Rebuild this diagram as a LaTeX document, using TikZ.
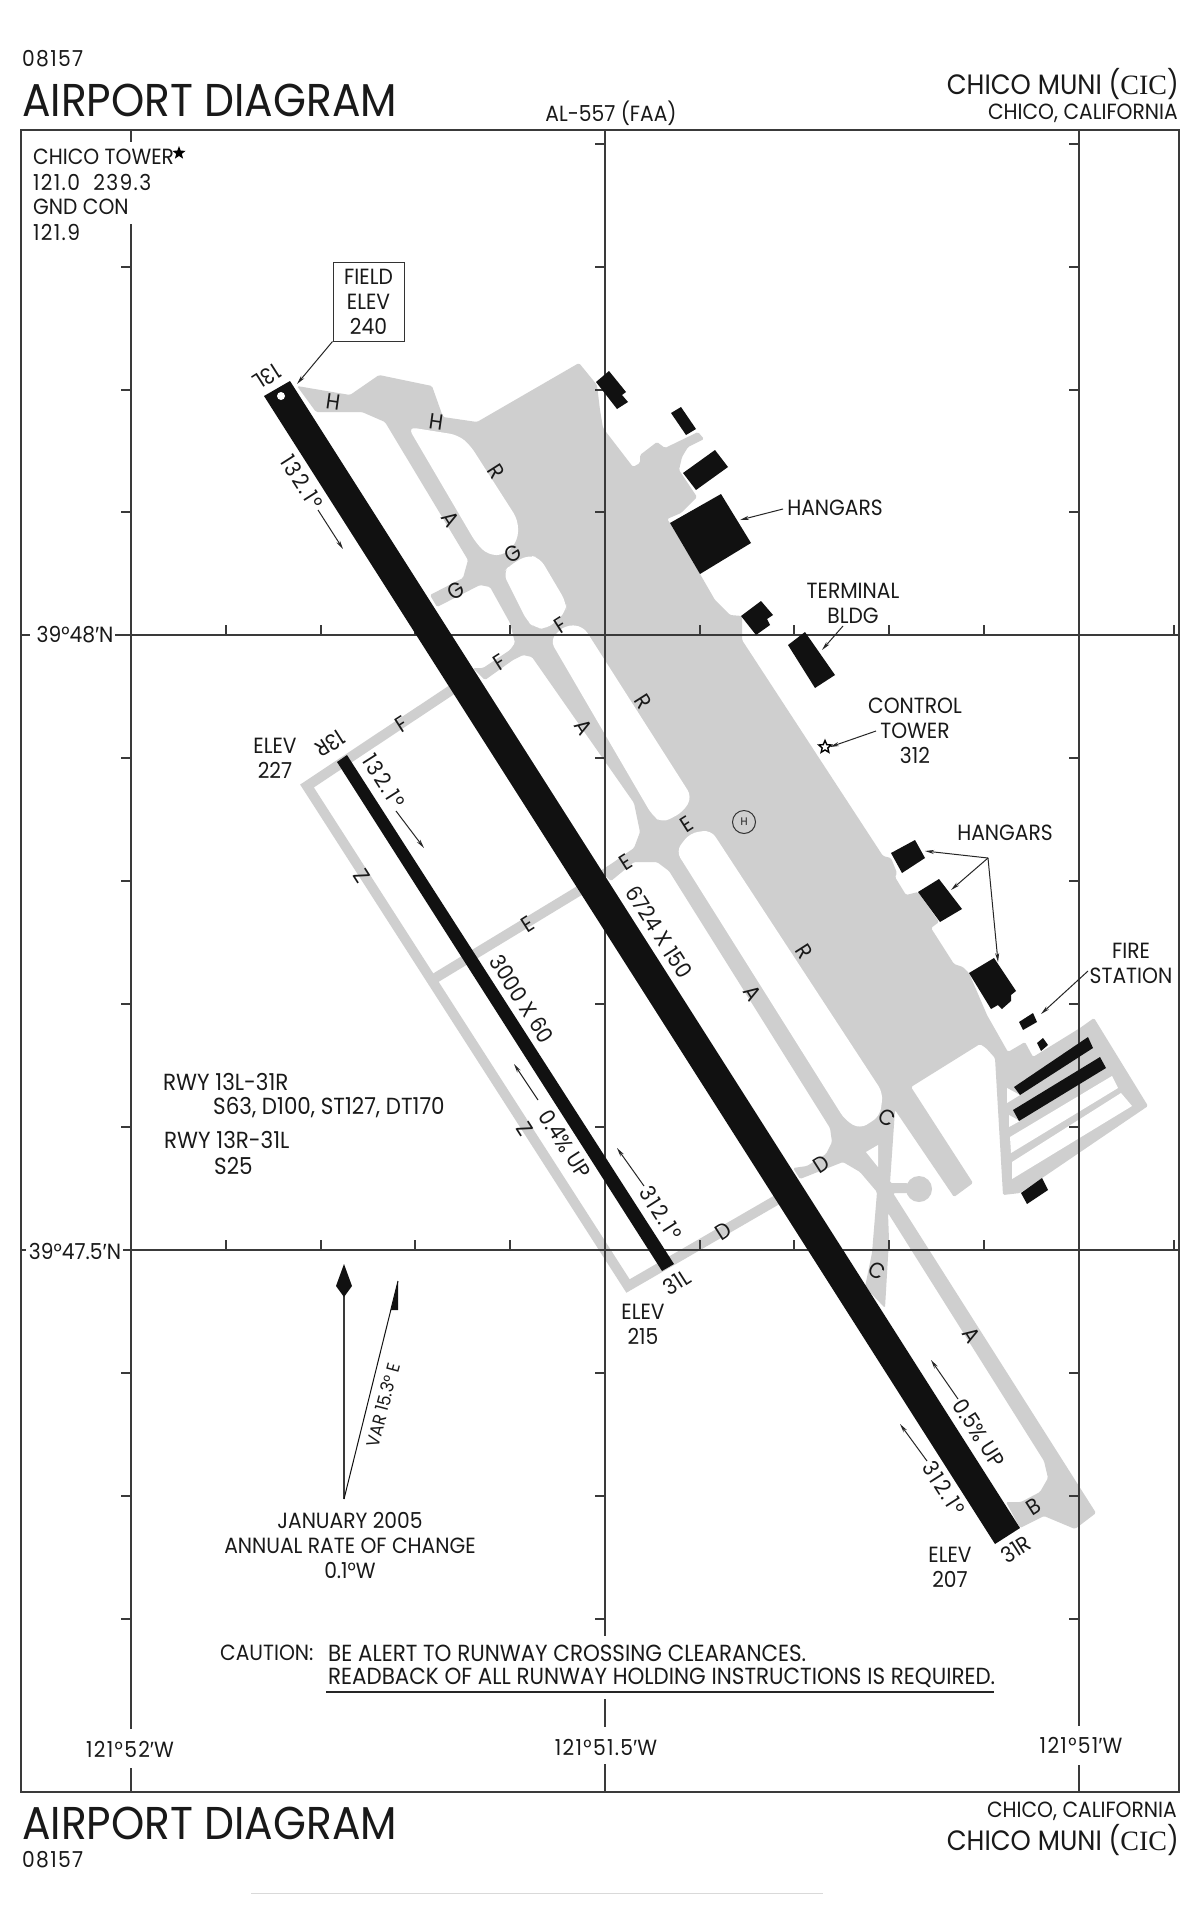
\documentclass[tikz,border=0pt]{standalone}
\usepackage{fontspec}
\usepackage{xcolor}
\usetikzlibrary{arrows.meta,shapes.geometric}
\setmainfont[FakeStretch=0.92]{Poppins}
\newfontfamily\cicfont{Liberation Serif}
\newfontfamily\primefont{Liberation Sans}
\definecolor{taxigray}{HTML}{CFCFCF}
\definecolor{rwyblack}{HTML}{111111}
\definecolor{gridgray}{HTML}{3A3A3A}
\newcommand{\sizetitle}{\fontsize{46}{50}\selectfont}
\newcommand{\sizename}{\fontsize{28}{32}\selectfont}
\newcommand{\sizetext}{\fontsize{22}{25}\selectfont}
\newcommand{\sizelong}{\fontsize{23.3}{25}\selectfont}
\newcommand{\sizenum}{\fontsize{22}{25}\selectfont\addfontfeature{LetterSpace=6}}
\newcommand{\sizehdg}{\fontsize{22}{25}\selectfont\addfontfeature{LetterSpace=9}}
\newcommand{\sizevar}{\fontsize{18}{20}\selectfont}
\newcommand{\minmark}{{\primefont ′}}
\tikzset{
    every node/.style={inner sep=0pt, text=black!90, font=\sizetext},
    gridline/.style={gridgray, line width=1.5pt},
    taxifill/.style={fill=taxigray, rounded corners=1.5pt},
    island/.style={fill=white, rounded corners=8pt},
    taxistrip/.style={draw=taxigray, line width=10pt},
    building/.style={fill=rwyblack},
    taxilabel/.style={font=\fontsize{22}{24}\selectfont},
    along/.style={rotate=-57.5},
    across/.style={rotate=32.5},
    acrossup/.style={rotate=212.5},
    callout/.style={black!85, line width=1pt, -{Stealth[length=9pt,width=4pt]}},
}
\begin{document}
\begin{tikzpicture}[x=1pt,y=-1pt]
    \useasboundingbox (0,0) rectangle (1200,1922);
    \fill[white] (0,0) rectangle (1200,1922);

    \fill[taxifill] (297,386) -- (350,395) -- (379,375) -- (432,386) -- (443,417) -- (477,422)
        -- (579,363) -- (597,385) -- (600,410) -- (603,428) -- (633,467) -- (640,463) -- (640,455)
        -- (657,442) -- (665,448) -- (698,432) -- (704,439) -- (688,447) -- (682,457) -- (679,470)
        -- (697,497) -- (681,513) -- (667,519) -- (670,523) -- (700,574) -- (715,600) -- (730,615)
        -- (742,616) -- (742,640) -- (883,856) -- (891,858) -- (897,873) -- (895,877) -- (906,895)
        -- (918,892) -- (939,922) -- (931,928) -- (954,964) -- (963,967) -- (969,973) -- (987,1015)
        -- (1008,1052) -- (1025,1042) -- (1033,1057) -- (1080,1028) -- (1094,1018) -- (1148,1106)
        -- (1020,1193) -- (1003,1195) -- (995,1058) -- (986,1048) -- (980,1044) -- (911,1087)
        -- (973,1183) -- (954,1197) -- (895,1110) -- (890,1183) -- (908,1183) -- (908,1193)
        -- (893,1193) -- (1096,1513) -- (1075,1529) -- (1044,1516) -- (1020,1528) -- (1006,1502)
        -- (1021,1502) -- (1040,1492) -- (1048,1478) -- (1044,1461) -- (888,1213) -- (889,1240)
        -- (885,1308) -- (865,1287) -- (872,1253) -- (877,1192) -- (860,1172) -- (843,1162)
        -- (800,1179) -- (793,1168) -- (807,1166) -- (826,1154) -- (832,1142) -- (830,1128)
        -- (669,871) -- (657,862) -- (634,862) -- (611,881) -- (600,871) -- (611,864) -- (634,848)
        -- (640,832) -- (634,803) -- (532,657) -- (523,655) -- (513,660) -- (485,680) -- (473,668)
        -- (483,668) -- (510,650) -- (515,643) -- (510,623) -- (490,587) -- (480,585) -- (437,607)
        -- (430,595) -- (463,578) -- (468,560) -- (385,422) -- (362,412) -- (316,412) -- cycle;
    \fill[taxigray] (919,1189) circle (13);
    \fill[island] (408,427) -- (433,431) -- (458,435) -- (470,445) -- (518,520) -- (518,540)
        -- (505,555) -- (488,555) -- (476,543) -- cycle;
    \fill[island] (503,573) -- (510,565) -- (528,555) -- (540,558) -- (566,602) -- (566,612)
        -- (547,629) -- (535,628) -- (527,621) -- cycle;
    \fill[island] (550,640) -- (565,625) -- (583,626) -- (692,797) -- (683,812) -- (662,823)
        -- (652,815) -- cycle;
    \fill[island] (676,851) -- (690,833) -- (711,830) -- (883,1093) -- (880,1116) -- (860,1129)
        -- (845,1120) -- cycle;
    \fill[white] (866,1152) -- (878,1145) -- (878,1167) -- cycle;
    \fill[white] (1010,1137) -- (1011,1153) -- (1118,1088) -- (1112,1076) -- cycle;
    \fill[white] (1012,1162) -- (1012,1179) -- (1132,1106) -- (1121,1093) -- cycle;
    \fill[white] (1007,1088) -- (1007,1103) -- (1020,1095) -- cycle;
    \fill[white] (1009,1115) -- (1009,1127) -- (1020,1121) -- cycle;
    \draw[taxistrip] (462,683) -- (307,786) -- (628,1286) -- (780,1198);
    \draw[taxistrip] (432,980) -- (582,889);

    \draw[gridline] (21,130) rectangle (1179,1792);
    \draw[gridline] (131,130) -- (131,142) (131,224) -- (131,1729) (131,1768) -- (131,1792);
    \draw[gridline] (605,130) -- (605,1636) (605,1699) -- (605,1727) (605,1764) -- (605,1792);
    \draw[gridline] (1079,130) -- (1079,1726) (1079,1765) -- (1079,1792);
    \draw[gridline] (21,635) -- (30,635) (115,635) -- (1179,635);
    \draw[gridline] (21,1250) -- (26,1250) (123,1250) -- (1179,1250);
    \foreach \ytick in {267,390,512,758,881,1004,1127,1373,1496,1619} {
        \draw[gridline] (121,\ytick) -- (131,\ytick);
        \draw[gridline] (595,\ytick) -- (605,\ytick);
        \draw[gridline] (1069,\ytick) -- (1079,\ytick);
    }
    \draw[gridline] (595,144) -- (605,144) (1069,144) -- (1079,144);
    \foreach \xtick in {226,321,415,510,700,794,889,984,1174} {
        \draw[gridline] (\xtick,625) -- (\xtick,635);
        \draw[gridline] (\xtick,1240) -- (\xtick,1250);
    }

    \fill[building] (264,396) -- (290,381) -- (1020,1528) -- (995,1544) -- cycle;
    \fill[white] (281,396) circle (4);
    \fill[building] (337,762) -- (347,755) -- (674,1264) -- (662,1271) -- cycle;
    \fill[building] (596,382) -- (609,371) -- (626,392) -- (622,395) -- (628,402) -- (617,409) -- cycle;
    \fill[building] (671,413) -- (681,407) -- (696,429) -- (686,435) -- cycle;
    \fill[building] (683,473) -- (715,450) -- (728,467) -- (696,490) -- cycle;
    \fill[building] (721,494) -- (751,543) -- (700,574) -- (670,523) -- cycle;
    \fill[building] (741,616) -- (761,601) -- (773,615) -- (767,619) -- (770,625) -- (756,635) -- cycle;
    \fill[building] (788,645) -- (805,632) -- (835,675) -- (815,688) -- cycle;
    \fill[building] (891,853) -- (915,840) -- (925,858) -- (902,873) -- cycle;
    \fill[building] (918,892) -- (939,879) -- (962,909) -- (940,922) -- cycle;
    \fill[building] (969,973) -- (994,958) -- (1016,991) -- (1011,995) -- (1011,1001) -- (1002,1009)
        -- (998,1005) -- (991,1009) -- cycle;
    \fill[building] (1019,1022) -- (1033,1013) -- (1037,1022) -- (1023,1030) -- cycle;
    \fill[building] (1037,1043) -- (1043,1038) -- (1048,1045) -- (1041,1051) -- cycle;
    \fill[building] (1014,1087) -- (1088,1037) -- (1093,1048) -- (1020,1095) -- cycle;
    \fill[building] (1013,1110) -- (1100,1057) -- (1106,1068) -- (1019,1121) -- cycle;
    \fill[building] (1021,1193) -- (1042,1178) -- (1048,1190) -- (1027,1204) -- cycle;

    \node[anchor=west, font=\sizenum] (numtop) at (22,59) {08157};
    \node[anchor=west, font=\sizetitle] (titletop) at (22,100) {AIRPORT DIAGRAM};
    \node (alnum) at (611,113) {AL-557 (FAA)};
    \node[anchor=east, font=\sizename] (nametop) at (1179,84) {CHICO MUNI ({\cicfont CIC})};
    \node[anchor=east] (citytop) at (1178,113) {CHICO, CALIFORNIA};
    \node[anchor=west, font=\sizetitle] (titlebot) at (22,1823) {AIRPORT DIAGRAM};
    \node[anchor=west, font=\sizenum] (numbot) at (22,1860) {08157};
    \node[anchor=east] (citybot) at (1177,1811) {CHICO, CALIFORNIA};
    \node[anchor=east, font=\sizename] (namebot) at (1179,1840) {CHICO MUNI ({\cicfont CIC})};

    \node[anchor=west] (twr) at (33,157) {CHICO TOWER};
    \node[star, star points=5, star point ratio=2.4, fill=black, minimum size=14pt] (twrstar) at (179,153) {};
    \node[anchor=west, font=\sizenum] (twrfreq) at (33,182) {121.0\ \ 239.3};
    \node[anchor=west] (gnd) at (33,207) {GND CON};
    \node[anchor=west, font=\sizenum] (gndfreq) at (33,232) {121.9};

    \node[draw=black!80, line width=1pt, minimum width=71pt, minimum height=79pt, align=center] (fieldelev) at (368.5,301.5)
        {\baselineskip=23.5pt FIELD\\ELEV\\240};
    \coordinate (fieldtip) at (297,384);
    \draw[callout] (fieldelev.south west) -- (fieldtip);

    \node[acrossup] (thrtl) at (267,377) {13L};
    \node[acrossup] (thrtr) at (330,744) {13R};
    \node[across] (thrbl) at (677,1282) {31L};
    \node[across] (thrbr) at (1016,1549) {31R};

    \node[along, font=\sizehdg] (hdgla) at (302,482) {132.1°};
    \coordinate (hdglas) at (318,510);
    \coordinate (hdglae) at (343,549);
    \draw[callout] (hdglas) -- (hdglae);
    \node[along, font=\sizehdg] (hdgra) at (384,781) {132.1°};
    \coordinate (hdgras) at (396,811);
    \coordinate (hdgrae) at (424,848);
    \draw[callout] (hdgras) -- (hdgrae);
    \node[along] (dimlong) at (659,932) {6724 X 150};
    \node[along] (dimshort) at (522,999) {3000 X 60};
    \node[along] (slopeshort) at (565,1144) {0.4\% UP};
    \coordinate (slopeshorts) at (538,1100);
    \coordinate (slopeshorte) at (514,1064);
    \draw[callout] (slopeshorts) -- (slopeshorte);
    \node[along, font=\sizehdg] (hdgrb) at (661,1213) {312.1°};
    \coordinate (hdgrbs) at (644,1186);
    \coordinate (hdgrbe) at (617,1148);
    \draw[callout] (hdgrbs) -- (hdgrbe);
    \node[along] (slopelong) at (979,1433) {0.5\% UP};
    \coordinate (slopelongs) at (958,1399);
    \coordinate (slopelonge) at (931,1360);
    \draw[callout] (slopelongs) -- (slopelonge);
    \node[along, font=\sizehdg] (hdglb) at (944,1488) {312.1°};
    \coordinate (hdglbs) at (927,1461);
    \coordinate (hdglbe) at (900,1424);
    \draw[callout] (hdglbs) -- (hdglbe);

    \node[taxilabel, rotate=-8] (tlh1) at (333,402) {H};
    \node[taxilabel, rotate=-8] (tlh2) at (436,422) {H};
    \node[taxilabel, along] (tlr1) at (496,472) {R};
    \node[taxilabel, along] (tlr2) at (643,702) {R};
    \node[taxilabel, along] (tlr3) at (804,952) {R};
    \node[taxilabel, along] (tla1) at (451,519) {A};
    \node[taxilabel, along] (tla2) at (584,727) {A};
    \node[taxilabel, along] (tla3) at (753,993) {A};
    \node[taxilabel, along] (tla4) at (972,1335) {A};
    \node[taxilabel, across] (tlg1) at (513,554) {G};
    \node[taxilabel, across] (tlg2) at (456,591) {G};
    \node[taxilabel, across] (tlf1) at (561,625) {F};
    \node[taxilabel, across] (tlf2) at (500,662) {F};
    \node[taxilabel, across] (tlf3) at (402,724) {F};
    \node[taxilabel, across] (tle1) at (687,824) {E};
    \node[taxilabel, across] (tle2) at (626,862) {E};
    \node[taxilabel, across] (tle3) at (528,924) {E};
    \node[taxilabel, across] (tld1) at (821,1164) {D};
    \node[taxilabel, across] (tld2) at (723,1231) {D};
    \node[taxilabel, rotate=-30] (tlc1) at (887,1118) {C};
    \node[taxilabel, rotate=-30] (tlc2) at (877,1271) {C};
    \node[taxilabel, along] (tlz1) at (362,876) {Z};
    \node[taxilabel, along] (tlz2) at (525,1129) {Z};
    \node[taxilabel, across] (tlb) at (1034,1507) {B};

    \node[draw=black!80, line width=1pt, circle, minimum size=23pt, font=\fontsize{11}{12}\selectfont] (heli) at (744,822) {H};

    \node (hangarsa) at (835,508) {HANGARS};
    \coordinate (hangarsas) at (783,509);
    \coordinate (hangarsae) at (740,520);
    \draw[callout] (hangarsas) -- (hangarsae);
    \node[align=center] (terminal) at (853,603) {\baselineskip=20pt TERMINAL\\BLDG};
    \coordinate (terminals) at (843,626);
    \coordinate (terminale) at (822,650);
    \draw[callout] (terminals) -- (terminale);
    \node[align=center] (ctltower) at (915,731) {\baselineskip=24pt CONTROL\\TOWER\\312};
    \node[star, star points=5, star point ratio=2.2, draw=black, fill=white, line width=1.4pt, minimum size=13pt] (towerstar) at (825,747) {};
    \coordinate (ctltowers) at (876,731);
    \draw[callout] (ctltowers) -- (towerstar.east);
    \node (hangarsb) at (1005,833) {HANGARS};
    \coordinate (hangarsfork) at (988,858);
    \coordinate (hangarsbe1) at (925,851);
    \coordinate (hangarsbe2) at (951,890);
    \coordinate (hangarsbe3) at (998,962);
    \draw[callout] (hangarsfork) -- (hangarsbe1);
    \draw[callout] (hangarsfork) -- (hangarsbe2);
    \draw[callout] (hangarsfork) -- (hangarsbe3);
    \node[align=center] (firestn) at (1131,963) {\baselineskip=24pt FIRE\\STATION};
    \coordinate (firestns) at (1088,971);
    \coordinate (firestne) at (1041,1014);
    \draw[callout] (firestns) -- (firestne);

    \node[align=center] (elevtl) at (275,758) {\baselineskip=22pt ELEV\\227};
    \node[align=center] (elevbl) at (643,1324) {\baselineskip=21pt ELEV\\215};
    \node[align=center] (elevbr) at (950,1567) {\baselineskip=21pt ELEV\\207};

    \node[anchor=west, font=\sizelong] (rwya) at (163,1082) {RWY 13L-31R};
    \node[anchor=west, font=\sizelong] (rwyadata) at (213,1108) {S63, D100, ST127, DT170};
    \node[anchor=west, font=\sizelong] (rwyb) at (164,1140) {RWY 13R-31L};
    \node[anchor=west, font=\sizelong] (rwybdata) at (214,1166) {S25};

    \node (latn) at (75,635) {39°48\minmark N};
    \node (lats) at (75,1251) {39°47.5\minmark N};
    \node[font=\sizenum] (lonw) at (130,1749) {121°52\minmark W};
    \node[font=\sizenum] (lonm) at (606,1747) {121°51.5\minmark W};
    \node[font=\sizenum] (lone) at (1081,1745) {121°51\minmark W};

    \coordinate (magbase) at (344,1499);
    \coordinate (truetop) at (344,1290);
    \coordinate (vartop) at (398,1281);
    \draw[gridgray, line width=1.5pt] (magbase) -- (truetop);
    \fill[rwyblack] (344,1264) -- (352,1286) -- (344,1297) -- (336,1286) -- cycle;
    \draw[rwyblack, line width=1pt] (magbase) -- (vartop);
    \fill[rwyblack] (398,1281) -- (398,1310) -- (391,1310) -- cycle;
    \node[rotate=75, font=\sizevar] (vartext) at (383,1405) {VAR 15.3° E};
    \node[align=center] (varnote) at (350,1545) {\baselineskip=24pt JANUARY 2005\\ANNUAL RATE OF CHANGE\\0.1°W};

    \node[anchor=west] (cautionh) at (220,1653) {CAUTION:};
    \node[anchor=west, font=\sizelong] (cautiona) at (328,1653) {BE ALERT TO RUNWAY CROSSING CLEARANCES.};
    \node[anchor=west, font=\sizelong] (cautionb) at (328,1678) {READBACK OF ALL RUNWAY HOLDING INSTRUCTIONS IS REQUIRED.};
    \coordinate (cautionl) at (326,1692);
    \coordinate (cautionr) at (994,1692);
    \draw[black!85, line width=1.5pt] (cautionl) -- (cautionr);

    \coordinate (footl) at (251,1893);
    \coordinate (footr) at (823,1893);
    \draw[black!15, line width=1pt] (footl) -- (footr);
\end{tikzpicture}
\end{document}
